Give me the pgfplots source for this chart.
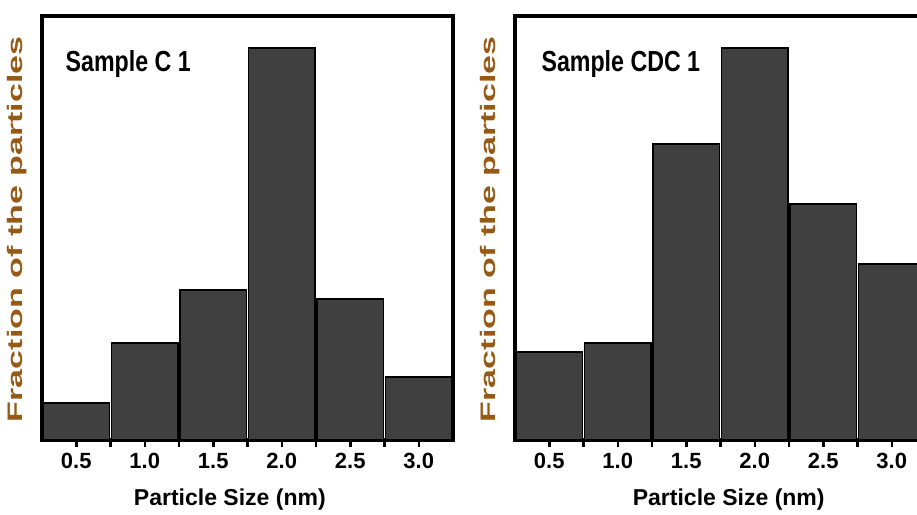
\documentclass[border=0pt]{standalone}
\usepackage{pgfplots}
\pgfplotsset{compat=1.18}
\usepackage{fontspec}
\setmainfont{Liberation Sans}
\newfontfamily\samplefont{Liberation Sans}[FakeStretch=0.8]
\newfontfamily\ylabfont{Liberation Sans}[FakeStretch=1.62]
\definecolor{barfill}{RGB}{64,64,64}
\definecolor{ylab}{RGB}{150,90,20}
\pgfplotsset{
  hist/.style={
    width=411pt, height=424pt, scale only axis,
    xmin=0.25, xmax=3.25, ymin=0, ymax=424,
    axis line style={line width=3.5pt},
    ytick=\empty,
    xtick={0.5,1,1.5,2,2.5,3},
    xticklabels={0.5,1.0,1.5,2.0,2.5,3.0},
    minor xtick={0.75,1.25,1.75,2.25,2.75},
    xtick pos=bottom, tick align=outside,
    major tick length=7pt, minor tick length=7pt,
    every tick/.style={black, line width=2.5pt},
    xticklabel style={font=\fontsize{22pt}{24pt}\selectfont\bfseries, yshift=-3pt},
    xlabel={Particle Size (nm)},
    x label style={font=\fontsize{23pt}{26pt}\selectfont\bfseries, at={(axis description cs:0.457,0)}, anchor=center, yshift=-60pt},
    ylabel={Fraction of the particles},
    y label style={font=\fontsize{21pt}{24pt}\selectfont\ylabfont\bfseries, text=ylab, at={(axis description cs:-0.061,0.497)}, anchor=center},
    ybar, bar width=0.485,
  },
  barsty/.style={fill=barfill, draw=black, line width=1.3pt},
}
\begin{document}
\begin{tikzpicture}
\path[use as bounding box] (-42pt,-74pt) rectangle (875pt,440pt);
\clip (-42pt,-74pt) rectangle (875pt,440pt);
\begin{axis}[hist, at={(0pt,0pt)}, anchor=south west]
\addplot[barsty] coordinates {(0.5,37) (1.0,97) (1.5,150) (2.0,392) (2.5,141) (3.0,63)};
\node[anchor=base west, font=\fontsize{29pt}{32pt}\selectfont\samplefont\bfseries] at (rel axis cs:0.049,0.870) {Sample C 1};
\end{axis}
\begin{axis}[hist, at={(473pt,0pt)}, anchor=south west, x label style={at={(axis description cs:0.52,0)}}]
\addplot[barsty] coordinates {(0.5,88) (1.0,97) (1.5,296) (2.0,392) (2.5,236) (3.0,176)};
\node[anchor=base west, font=\fontsize{29pt}{32pt}\selectfont\samplefont\bfseries] at (rel axis cs:0.056,0.870) {Sample CDC 1};
\end{axis}
\end{tikzpicture}
\end{document}
